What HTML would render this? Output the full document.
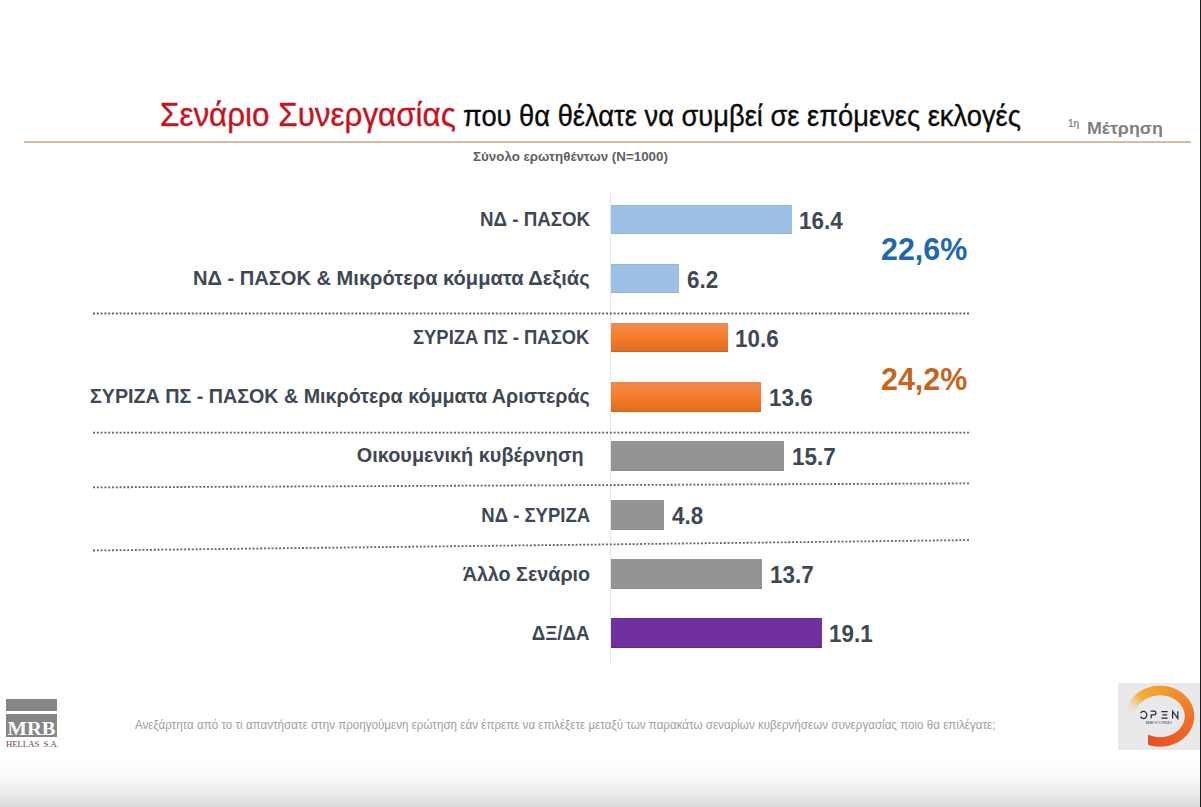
<!DOCTYPE html>
<html><head><meta charset="utf-8"><style>
html,body{margin:0;padding:0;}
body{width:1201px;height:807px;position:relative;overflow:hidden;background:#fff;font-family:"Liberation Sans",sans-serif;}
.t{position:absolute;white-space:pre;}
.bar{position:absolute;left:611px;}
</style></head><body>
<div style="position:absolute;left:0;top:758px;width:1201px;height:49px;background:linear-gradient(#fff,#f9f9f9 38%,#ebebeb 72%,#d9d9d9)"></div>
<div style="position:absolute;left:1200px;top:0;width:1px;height:807px;background:#1e1e1e"></div>
<div class="t" style="left:160.00px;transform-origin:left center;top:98.96px;font-size:32.3px;line-height:32.3px;transform:scaleX(0.972);color:#C4141F;font-weight:normal;-webkit-text-stroke:0.35px currentColor;">Σενάριο Συνεργασίας</div>
<div class="t" style="left:462.50px;transform-origin:left center;top:101.13px;font-size:29.5px;line-height:29.5px;transform:scaleX(0.925);color:#0a0a0a;font-weight:normal;-webkit-text-stroke:0.35px currentColor;">που θα θέλατε να συμβεί σε επόμενες εκλογές</div>
<div style="position:absolute;left:24px;top:141px;width:1167px;height:2px;background:#D8BBA3"></div>
<div class="t" style="left:1068.00px;transform-origin:left center;top:118.83px;font-size:10px;line-height:10px;transform:scaleX(1.0);color:#7a7a7a;font-weight:normal;-webkit-text-stroke:0.2px #7a7a7a;">1η</div>
<div class="t" style="left:1086.50px;transform-origin:left center;top:121.06px;font-size:16px;line-height:16px;transform:scaleX(1.115);color:#7f7f7f;font-weight:bold;">Μέτρηση</div>
<div class="t" style="left:473.20px;transform-origin:left center;top:150.43px;font-size:13.2px;line-height:13.2px;transform:scaleX(1.013);color:#606060;font-weight:bold;">Σύνολο ερωτηθέντων (N=1000)</div>
<div style="position:absolute;left:610px;top:191px;width:1px;height:472px;background:#E6E6E6"></div>
<div class="bar" style="top:205.00px;width:181.06px;height:29.4px;background:#9DC1E6;box-shadow:inset 0 1px 0 #9AB6CE,inset 0 -1px 0 #9AB6CE;"></div>
<div class="t" style="right:611.00px;transform-origin:right center;top:209.22px;font-size:20.3px;line-height:20.3px;transform:scaleX(0.924);color:#3E4854;font-weight:bold;">ΝΔ - ΠΑΣΟΚ</div>
<div class="t" style="left:799.46px;transform-origin:left center;top:209.83px;font-size:23.0px;line-height:23.0px;transform:scaleX(0.975);color:#3E4854;font-weight:bold;">16.4</div>
<div class="bar" style="top:264.04px;width:68.45px;height:29.4px;background:#9DC1E6;box-shadow:inset 0 1px 0 #9AB6CE,inset 0 -1px 0 #9AB6CE;"></div>
<div class="t" style="right:611.00px;transform-origin:right center;top:268.28px;font-size:20.3px;line-height:20.3px;transform:scaleX(0.99);color:#3E4854;font-weight:bold;">ΝΔ - ΠΑΣΟΚ &amp; Μικρότερα κόμματα Δεξιάς</div>
<div class="t" style="left:687.05px;transform-origin:left center;top:268.81px;font-size:23.0px;line-height:23.0px;transform:scaleX(0.975);color:#3E4854;font-weight:bold;">6.2</div>
<div class="bar" style="top:323.08px;width:117.02px;height:29.4px;background:linear-gradient(#F08C4C,#F47C2A 50%,#E06C1E);box-shadow:inset 0 1px 0 #D98A56,inset 0 -1px 0 #C9662A;"></div>
<div class="t" style="right:611.50px;transform-origin:right center;top:327.34px;font-size:20.3px;line-height:20.3px;transform:scaleX(0.907);color:#3E4854;font-weight:bold;">ΣΥΡΙΖΑ ΠΣ - ΠΑΣΟΚ</div>
<div class="t" style="left:735.42px;transform-origin:left center;top:327.79px;font-size:23.0px;line-height:23.0px;transform:scaleX(0.975);color:#3E4854;font-weight:bold;">10.6</div>
<div class="bar" style="top:382.12px;width:150.14px;height:29.4px;background:linear-gradient(#F08C4C,#F47C2A 50%,#E06C1E);box-shadow:inset 0 1px 0 #D98A56,inset 0 -1px 0 #C9662A;"></div>
<div class="t" style="right:611.50px;transform-origin:right center;top:386.40px;font-size:20.3px;line-height:20.3px;transform:scaleX(0.971);color:#3E4854;font-weight:bold;">ΣΥΡΙΖΑ ΠΣ - ΠΑΣΟΚ &amp; Μικρότερα κόμματα Αριστεράς</div>
<div class="t" style="left:768.54px;transform-origin:left center;top:386.77px;font-size:23.0px;line-height:23.0px;transform:scaleX(0.975);color:#3E4854;font-weight:bold;">13.6</div>
<div class="bar" style="top:441.16px;width:173.33px;height:29.4px;background:#949494;box-shadow:inset 0 -1px 0 #8A8A8A;"></div>
<div class="t" style="right:617.50px;transform-origin:right center;top:445.46px;font-size:20.3px;line-height:20.3px;transform:scaleX(0.979);color:#3E4854;font-weight:bold;">Οικουμενική κυβέρνηση</div>
<div class="t" style="left:791.73px;transform-origin:left center;top:445.75px;font-size:23.0px;line-height:23.0px;transform:scaleX(0.975);color:#3E4854;font-weight:bold;">15.7</div>
<div class="bar" style="top:500.20px;width:52.99px;height:29.4px;background:#949494;box-shadow:inset 0 -1px 0 #8A8A8A;"></div>
<div class="t" style="right:611.20px;transform-origin:right center;top:504.52px;font-size:20.3px;line-height:20.3px;transform:scaleX(0.913);color:#3E4854;font-weight:bold;">ΝΔ - ΣΥΡΙΖΑ</div>
<div class="t" style="left:671.59px;transform-origin:left center;top:504.73px;font-size:23.0px;line-height:23.0px;transform:scaleX(0.975);color:#3E4854;font-weight:bold;">4.8</div>
<div class="bar" style="top:559.24px;width:151.25px;height:29.4px;background:#949494;box-shadow:inset 0 -1px 0 #8A8A8A;"></div>
<div class="t" style="right:611.20px;transform-origin:right center;top:563.58px;font-size:20.3px;line-height:20.3px;transform:scaleX(0.972);color:#3E4854;font-weight:bold;">Άλλο Σενάριο</div>
<div class="t" style="left:769.65px;transform-origin:left center;top:563.71px;font-size:23.0px;line-height:23.0px;transform:scaleX(0.975);color:#3E4854;font-weight:bold;">13.7</div>
<div class="bar" style="top:618.28px;width:210.86px;height:29.4px;background:#7030A0;box-shadow:inset 0 -1px 0 #5E2C78;"></div>
<div class="t" style="right:611.20px;transform-origin:right center;top:622.64px;font-size:20.3px;line-height:20.3px;transform:scaleX(0.925);color:#3E4854;font-weight:bold;">ΔΞ/ΔΑ</div>
<div class="t" style="left:829.26px;transform-origin:left center;top:622.69px;font-size:23.0px;line-height:23.0px;transform:scaleX(0.975);color:#3E4854;font-weight:bold;">19.1</div>
<div class="t" style="left:881.20px;transform-origin:left center;top:233.54px;font-size:31.5px;line-height:31.5px;transform:scaleX(0.966);color:#2068AE;font-weight:bold;">22,6%</div>
<div class="t" style="left:881.00px;transform-origin:left center;top:363.54px;font-size:31.5px;line-height:31.5px;transform:scaleX(0.966);color:#C4661E;font-weight:bold;">24,2%</div>
<svg style="position:absolute;left:0;top:0" width="1201" height="807">
<line x1="93" y1="313.5" x2="970" y2="313.5" stroke="#666" stroke-width="1.8" stroke-dasharray="2 1.8"/>
<line x1="93" y1="432.7" x2="970" y2="432.7" stroke="#666" stroke-width="1.8" stroke-dasharray="2 1.8"/>
<line x1="93" y1="487.4" x2="970" y2="483.4" stroke="#666" stroke-width="1.8" stroke-dasharray="2 1.8"/>
<line x1="93" y1="550.5" x2="970" y2="540.1" stroke="#666" stroke-width="1.8" stroke-dasharray="2 1.8"/>
</svg>
<div class="t" style="left:135.00px;transform-origin:left center;top:719.47px;font-size:12.2px;line-height:12.2px;transform:scaleX(0.953);color:#A0A0A0;font-weight:normal;">Ανεξάρτητα από το τι απαντήσατε στην προηγούμενη ερώτηση εάν έπρεπε να επιλέξετε μεταξύ των παρακάτω σεναρίων κυβερνήσεων συνεργασίας ποιο θα επιλέγατε;</div>
<div style="position:absolute;left:6px;top:698.5px;width:51px;height:12.5px;background:#858585"></div>
<div style="position:absolute;left:6px;top:714px;width:51px;height:23px;background:#858585"></div>
<div class="t" style="left:6px;top:720.3px;width:51px;text-align:center;font-family:'Liberation Serif',serif;font-weight:bold;font-size:18.2px;line-height:18.2px;color:#fff;transform:scaleX(1.13);transform-origin:center">MRB</div>
<div class="t" style="left:5.5px;top:739.5px;font-family:'Liberation Serif',serif;font-size:8.6px;line-height:8.6px;color:#6B4354;transform:scaleX(1.01);transform-origin:left">HELLAS  S.A.</div>
<div style="position:absolute;left:1118px;top:683px;width:82px;height:67px;background:#E9E9EB"></div>
<svg style="position:absolute;left:1118px;top:683px" width="82" height="67" viewBox="0 0 82 67">
<defs><clipPath id="cc"><path d="M0 0 H82 V67 H30 V44 H0 Z"/></clipPath></defs><g clip-path="url(#cc)"><path d="M25.54 11.87 A29.5 25.7 0 1 1 28.15 55.89" stroke="#F2822A" stroke-width="8.8" fill="none"/>
<path d="M12.95 28.74 A29.5 25.7 0 0 1 13.64 26.12" stroke="#f8d592" stroke-opacity="0.07" stroke-width="9.4" fill="none"/>
<path d="M13.56 26.38 A29.5 25.7 0 0 1 14.65 23.57" stroke="#f7ce83" stroke-opacity="0.22" stroke-width="9.4" fill="none"/>
<path d="M14.53 23.82 A29.5 25.7 0 0 1 15.95 21.13" stroke="#f7c773" stroke-opacity="0.37" stroke-width="9.4" fill="none"/>
<path d="M15.81 21.37 A29.5 25.7 0 0 1 17.54 18.83" stroke="#f6c063" stroke-opacity="0.52" stroke-width="9.4" fill="none"/>
<path d="M17.37 19.05 A29.5 25.7 0 0 1 19.40 16.68" stroke="#f6b954" stroke-opacity="0.67" stroke-width="9.4" fill="none"/>
<path d="M19.20 16.89 A29.5 25.7 0 0 1 21.51 14.71" stroke="#f5b244" stroke-opacity="0.82" stroke-width="9.4" fill="none"/>
<path d="M21.29 14.90 A29.5 25.7 0 0 1 23.84 12.95" stroke="#f5ae3e" stroke-opacity="0.97" stroke-width="9.4" fill="none"/>
<path d="M23.60 13.11 A29.5 25.7 0 0 1 26.37 11.41" stroke="#f5ac3c" stroke-opacity="1.00" stroke-width="9.4" fill="none"/>
<path d="M26.11 11.55 A29.5 25.7 0 0 1 29.07 10.10" stroke="#f5a93a" stroke-opacity="1.00" stroke-width="9.4" fill="none"/>
<path d="M28.79 10.22 A29.5 25.7 0 0 1 31.91 9.05" stroke="#f5a637" stroke-opacity="1.00" stroke-width="9.4" fill="none"/>
<path d="M31.62 9.14 A29.5 25.7 0 0 1 34.86 8.26" stroke="#f4a435" stroke-opacity="1.00" stroke-width="9.4" fill="none"/>
<path d="M34.56 8.33 A29.5 25.7 0 0 1 37.89 7.75" stroke="#f4a133" stroke-opacity="1.00" stroke-width="9.4" fill="none"/>
<path d="M37.59 7.79 A29.5 25.7 0 0 1 40.97 7.52" stroke="#f49f30" stroke-opacity="1.00" stroke-width="9.4" fill="none"/>
<path d="M40.66 7.53 A29.5 25.7 0 0 1 44.06 7.56" stroke="#f49c2e" stroke-opacity="1.00" stroke-width="9.4" fill="none"/>
<path d="M43.75 7.55 A29.5 25.7 0 0 1 47.12 7.89" stroke="#f49a2c" stroke-opacity="1.00" stroke-width="9.4" fill="none"/>
<path d="M46.82 7.85 A29.5 25.7 0 0 1 50.13 8.50" stroke="#f4972c" stroke-opacity="1.00" stroke-width="9.4" fill="none"/>
<path d="M49.83 8.42 A29.5 25.7 0 0 1 53.05 9.37" stroke="#f3942c" stroke-opacity="1.00" stroke-width="9.4" fill="none"/>
<path d="M52.76 9.27 A29.5 25.7 0 0 1 55.85 10.51" stroke="#f3922b" stroke-opacity="1.00" stroke-width="9.4" fill="none"/>
<path d="M55.58 10.38 A29.5 25.7 0 0 1 58.50 11.89" stroke="#f38f2b" stroke-opacity="1.00" stroke-width="9.4" fill="none"/>
<path d="M58.24 11.74 A29.5 25.7 0 0 1 60.96 13.51" stroke="#f28c2b" stroke-opacity="1.00" stroke-width="9.4" fill="none"/>
<path d="M60.72 13.34 A29.5 25.7 0 0 1 63.22 15.35" stroke="#f2892b" stroke-opacity="1.00" stroke-width="9.4" fill="none"/>
<path d="M63.00 15.15 A29.5 25.7 0 0 1 65.25 17.38" stroke="#f2872b" stroke-opacity="1.00" stroke-width="9.4" fill="none"/>
<path d="M65.05 17.17 A29.5 25.7 0 0 1 67.02 19.58" stroke="#f1842a" stroke-opacity="1.00" stroke-width="9.4" fill="none"/>
<path d="M66.85 19.35 A29.5 25.7 0 0 1 68.51 21.93" stroke="#f1812a" stroke-opacity="1.00" stroke-width="9.4" fill="none"/>
<path d="M68.38 21.69 A29.5 25.7 0 0 1 69.72 24.41" stroke="#f17f2a" stroke-opacity="1.00" stroke-width="9.4" fill="none"/>
<path d="M69.61 24.16 A29.5 25.7 0 0 1 70.62 26.98" stroke="#f07c2a" stroke-opacity="1.00" stroke-width="9.4" fill="none"/>
<path d="M70.55 26.72 A29.5 25.7 0 0 1 71.21 29.62" stroke="#f07929" stroke-opacity="1.00" stroke-width="9.4" fill="none"/>
<path d="M71.17 29.36 A29.5 25.7 0 0 1 71.48 32.30" stroke="#f07629" stroke-opacity="1.00" stroke-width="9.4" fill="none"/>
<path d="M71.47 32.03 A29.5 25.7 0 0 1 71.43 34.99" stroke="#ef7429" stroke-opacity="1.00" stroke-width="9.4" fill="none"/>
<path d="M71.45 34.72 A29.5 25.7 0 0 1 71.05 37.66" stroke="#ef7128" stroke-opacity="1.00" stroke-width="9.4" fill="none"/>
<path d="M71.10 37.40 A29.5 25.7 0 0 1 70.36 40.28" stroke="#ee6e28" stroke-opacity="1.00" stroke-width="9.4" fill="none"/>
<path d="M70.44 40.02 A29.5 25.7 0 0 1 69.35 42.83" stroke="#ee6b28" stroke-opacity="1.00" stroke-width="9.4" fill="none"/>
<path d="M69.47 42.58 A29.5 25.7 0 0 1 68.05 45.27" stroke="#ed6a28" stroke-opacity="1.00" stroke-width="9.4" fill="none"/>
<path d="M68.19 45.03 A29.5 25.7 0 0 1 66.46 47.57" stroke="#ed6828" stroke-opacity="1.00" stroke-width="9.4" fill="none"/>
<path d="M66.63 47.35 A29.5 25.7 0 0 1 64.60 49.72" stroke="#ed6627" stroke-opacity="1.00" stroke-width="9.4" fill="none"/>
<path d="M64.80 49.51 A29.5 25.7 0 0 1 62.49 51.69" stroke="#ec6427" stroke-opacity="1.00" stroke-width="9.4" fill="none"/>
<path d="M62.71 51.50 A29.5 25.7 0 0 1 60.16 53.45" stroke="#ec6227" stroke-opacity="1.00" stroke-width="9.4" fill="none"/>
<path d="M60.40 53.29 A29.5 25.7 0 0 1 57.63 54.99" stroke="#eb6027" stroke-opacity="1.00" stroke-width="9.4" fill="none"/>
<path d="M57.89 54.85 A29.5 25.7 0 0 1 54.93 56.30" stroke="#eb5e26" stroke-opacity="1.00" stroke-width="9.4" fill="none"/>
<path d="M55.21 56.18 A29.5 25.7 0 0 1 52.09 57.35" stroke="#eb5c26" stroke-opacity="1.00" stroke-width="9.4" fill="none"/>
<path d="M52.38 57.26 A29.5 25.7 0 0 1 49.14 58.14" stroke="#ea5b26" stroke-opacity="1.00" stroke-width="9.4" fill="none"/>
<path d="M49.44 58.07 A29.5 25.7 0 0 1 46.11 58.65" stroke="#ea5926" stroke-opacity="1.00" stroke-width="9.4" fill="none"/>
<path d="M46.41 58.61 A29.5 25.7 0 0 1 43.03 58.88" stroke="#e95726" stroke-opacity="1.00" stroke-width="9.4" fill="none"/>
<path d="M43.34 58.87 A29.5 25.7 0 0 1 39.94 58.84" stroke="#e85625" stroke-opacity="1.00" stroke-width="9.4" fill="none"/>
<path d="M40.25 58.85 A29.5 25.7 0 0 1 36.88 58.51" stroke="#e75425" stroke-opacity="1.00" stroke-width="9.4" fill="none"/>
<path d="M37.18 58.55 A29.5 25.7 0 0 1 33.87 57.90" stroke="#e75225" stroke-opacity="1.00" stroke-width="9.4" fill="none"/>
<path d="M34.17 57.98 A29.5 25.7 0 0 1 30.95 57.03" stroke="#e65024" stroke-opacity="1.00" stroke-width="9.4" fill="none"/>
<path d="M31.24 57.13 A29.5 25.7 0 0 1 28.15 55.89" stroke="#e54f24" stroke-opacity="1.00" stroke-width="9.4" fill="none"/></g>
<g fill="none" stroke="#2A2D40" stroke-width="1.25"><path d="M22.6 30.2 A3.3 3.6 0 1 1 22.6 33.6"/><path d="M33.2 35.6 V31.8 H36 A1.9 1.8 0 0 0 36 28.2 H32.6"/><path d="M43.4 28.6 H49.6 M44.4 31.8 H49.2 M43.4 35.0 H49.6"/><path d="M54.6 35.6 V28.4 L59.8 35.4 V28.2"/></g>
<text x="27.8" y="40.8" textLength="26.3" lengthAdjust="spacingAndGlyphs" font-family="Liberation Sans" font-size="3.4" fill="#4A4C5C">BEYOND</text>
</svg>
</body></html>
